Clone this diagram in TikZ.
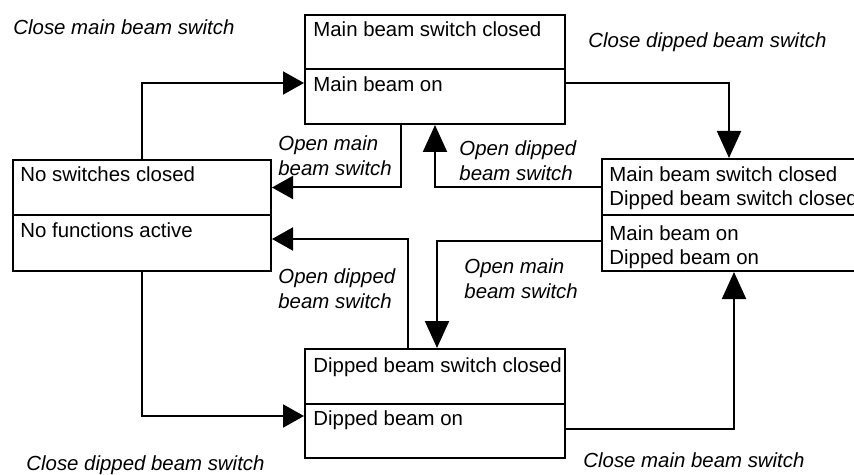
\documentclass[tikz,border=0pt]{standalone}
\usepackage{fontspec}
\setmainfont{Liberation Sans}
\usetikzlibrary{arrows.meta, calc}

\begin{document}
\begin{tikzpicture}[x=0.5pt, y=-0.5pt,
    state/.style={draw, line width=1pt, anchor=north west, inner sep=0pt},
    txt/.style={anchor=north west, inner sep=0pt, align=left, font=\fontsize{10.2}{12.3}\selectfont},
    lbl/.style={anchor=north west, inner sep=0pt, align=left, font=\fontsize{10.2}{12.5}\selectfont\itshape},
    trh/.style={line width=1pt, -{Triangle[length=10.5pt, width=11.5pt]}},
    trv/.style={line width=1pt, -{Triangle[length=13.5pt, width=12pt]}}]
  \clip (0,0) rectangle (854,475);

  % States
  \node[state, minimum width=130pt, minimum height=54.5pt] (mb) at (304,14) {};
  \node[state, minimum width=129pt, minimum height=55.5pt] (no) at (12,159) {};
  \node[state, minimum width=140pt, minimum height=56pt] (md) at (601,158) {};
  \node[state, minimum width=130pt, minimum height=54.5pt] (db) at (304,348) {};
  \draw[line width=1pt] (mb.west) -- (mb.east);
  \draw[line width=1pt] (no.west) -- (no.east);
  \draw[line width=1pt] (md.west) -- (md.east);
  \draw[line width=1pt] (db.west) -- (db.east);

  % State texts
  \node[txt] (mbtop) at ([shift={(4.5pt,-3.5pt)}]mb.north west) {Main beam switch closed};
  \node[txt] (mbbot) at ([shift={(4.5pt,-3.5pt)}]mb.west) {Main beam on};
  \node[txt] (notop) at ([shift={(4pt,-3.5pt)}]no.north west) {No switches closed};
  \node[txt] (nobot) at ([shift={(4pt,-3.5pt)}]no.west) {No functions active};
  \node[txt] (mdtop) at ([shift={(4pt,-4pt)}]md.north west) {Main beam switch closed\\Dipped beam switch closed};
  \node[txt] (mdbot) at ([shift={(4pt,-5pt)}]md.west) {Main beam on\\Dipped beam on};
  \node[txt] (dbtop) at ([shift={(4.5pt,-4.5pt)}]db.north west) {Dipped beam switch closed};
  \node[txt] (dbbot) at ([shift={(4.5pt,-3.5pt)}]db.west) {Dipped beam on};

  % Transitions
  \draw[trh] (no.north) |- ([yshift=-6.75pt]mb.west);
  \draw[trh] ([xshift=-17pt]mb.south) |- ([yshift=14pt]no.east);
  \draw[trv] ([yshift=-6.75pt]mb.east) -| ([xshift=64pt]md.north west);
  \draw[trv] ([yshift=14pt]md.west) -| (mb.south);
  \draw[trh] ([xshift=-13.5pt]db.north) |- ([yshift=-11.75pt]no.east);
  \draw[trv] ([yshift=-13pt]md.west) -| ([xshift=1pt]db.north);
  \draw[trh] (no.south) |- ([yshift=-6.25pt]db.west);
  \draw[trv] ([yshift=-12.75pt]db.east) -| ([xshift=66.5pt]md.south west);

  % Labels
  \node[lbl, anchor=base west] (l1) at (13,35) {Close main beam switch};
  \node[lbl, anchor=base west] (l2) at (588,48) {Close dipped beam switch};
  \node[lbl] (l3) at (278,135) {Open main\\beam switch};
  \node[lbl] (l4) at (459,140) {Open dipped\\beam switch};
  \node[lbl] (l5) at (464,258) {Open main\\beam switch};
  \node[lbl] (l6) at (278,268) {Open dipped\\beam switch};
  \node[lbl, anchor=base west] (l7) at (26,470) {Close dipped beam switch};
  \node[lbl, anchor=base west] (l8) at (583,467) {Close main beam switch};
\end{tikzpicture}
\end{document}
